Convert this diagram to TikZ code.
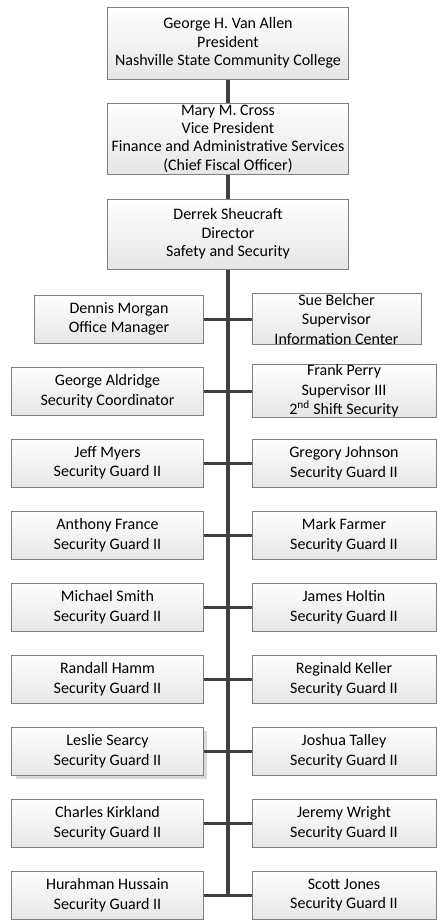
\documentclass[tikz,border=0pt]{standalone}
\usepackage{fontspec}
\setmainfont{Carlito}
\definecolor{boxborder}{HTML}{808080}
\definecolor{boxbot}{HTML}{E6E6E6}
\definecolor{linkcol}{HTML}{404040}
\definecolor{shadowcol}{HTML}{D9D9D9}
\begin{document}
\begin{tikzpicture}[x=1bp,y=-1bp,
  box/.style={draw=boxborder, line width=1bp, top color=white, bottom color=boxbot,
    align=center, font=\fontsize{16bp}{19.5bp}\selectfont, inner sep=0pt, text=black},
  topbox/.style={box, minimum width=240bp, font=\fontsize{16bp}{18.5bp}\selectfont},
  lbox/.style={box, minimum width=191bp, minimum height=48bp},
  rbox/.style={box, minimum width=184bp, minimum height=48bp},
  link/.style={draw=linkcol, line width=3bp},
  spine/.style={draw=linkcol, line width=4bp}]
\useasboundingbox (0,0) rectangle (437,920);

% top chain
\node[topbox, minimum height=72bp] (gva) at (228,43) {George H. Van Allen\\President\\Nashville State Community College};
\node[topbox, minimum height=71bp, font=\fontsize{16bp}{18.3bp}\selectfont] (mmc) at (228,138.5) {Mary M. Cross\\Vice President\\Finance and Administrative Services\\(Chief Fiscal Officer)};
\node[topbox, minimum height=70bp] (ds) at (228,234) {Derrek Sheucraft\\Director\\Safety and Security};

% shadow of Leslie box
\fill[shadowcol] (16,731) rectangle (207,779);

% left column
\node[lbox, minimum width=168bp] (dm) at (119,319) {Dennis Morgan\\Office Manager};
\node[lbox] (ga) at (107.5,391) {George Aldridge\\Security Coordinator};
\node[lbox] (jm) at (107.5,463) {Jeff Myers\\Security Guard II};
\node[lbox] (af) at (107.5,535) {Anthony France\\Security Guard II};
\node[lbox] (ms) at (107.5,607) {Michael Smith\\Security Guard II};
\node[lbox] (rh) at (107.5,679) {Randall Hamm\\Security Guard II};
\node[lbox] (ls) at (107.5,751) {Leslie Searcy\\Security Guard II};
\node[lbox] (ck) at (107.5,823) {Charles Kirkland\\Security Guard II};
\node[lbox] (hh) at (107.5,895) {Hurahman Hussain\\Security Guard II};

% right column
\node[rbox, minimum width=169bp] (sb) at (336.5,319) {Sue Belcher\\Supervisor\\Information Center};
\node[rbox] (fp) at (344,391) {Frank Perry\\Supervisor III\\2\textsuperscript{nd} Shift Security};
\node[rbox] (gj) at (344,463) {Gregory Johnson\\Security Guard II};
\node[rbox] (mf) at (344,535) {Mark Farmer\\Security Guard II};
\node[rbox] (jh) at (344,607) {James Holtin\\Security Guard II};
\node[rbox] (rk) at (344,679) {Reginald Keller\\Security Guard II};
\node[rbox] (jt) at (344,751) {Joshua Talley\\Security Guard II};
\node[rbox] (jw) at (344,823) {Jeremy Wright\\Security Guard II};
\node[rbox] (sj) at (344,895) {Scott Jones\\Security Guard II};

\coordinate (spineend) at (228,895);

% connectors
\draw[spine] (gva.south) -- (mmc.north);
\draw[spine] (mmc.south) -- (ds.north);
\draw[spine] (ds.south) -- (spineend);
\foreach \l/\r in {dm/sb, ga/fp, jm/gj, af/mf, ms/jh, rh/rk, ls/jt, ck/jw, hh/sj}
  \draw[link] (\l.east) -- (\r.west);
\end{tikzpicture}
\end{document}
